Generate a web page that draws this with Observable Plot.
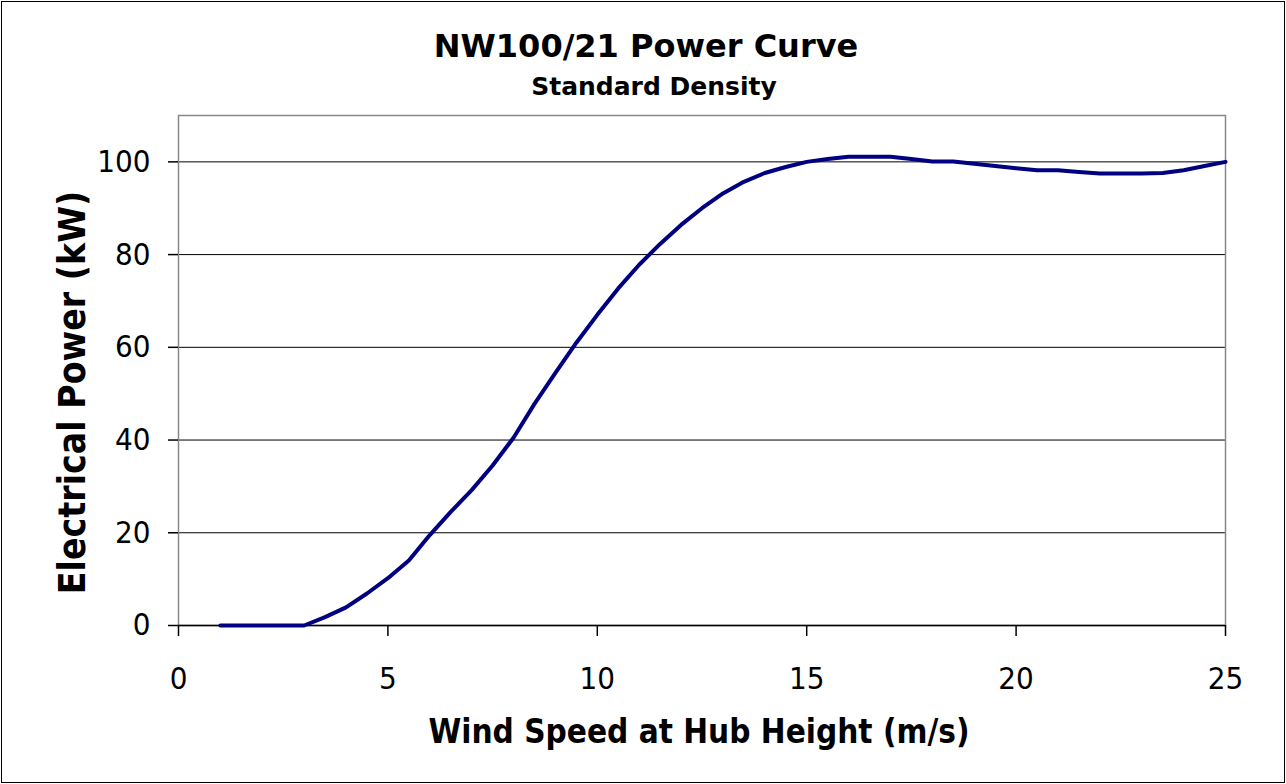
<!DOCTYPE html>
<html>
<head>
<meta charset="utf-8">
<script src="https://cdn.jsdelivr.net/npm/d3@7"></script>
<script src="https://cdn.jsdelivr.net/npm/@observablehq/plot@0.6"></script>
<style>
  html, body { margin: 0; padding: 0; background: #fff; }
  #chart svg { display: block; outline: 1.5px solid #000; outline-offset: -2px; }
</style>
</head>
<body>
<div id="chart"></div>
<script>
// Wind speed at hub height (m/s)
const windSpeed = [1, 1.5, 2, 2.5, 3, 3.5, 4, 4.5, 5, 5.5, 6, 6.5, 7, 7.5, 8, 8.5, 9, 9.5, 10,
  10.5, 11, 11.5, 12, 12.5, 13, 13.5, 14, 14.5, 15, 15.5, 16, 16.5, 17, 17.5, 18, 18.5, 19, 19.5, 20,
  20.5, 21, 21.5, 22, 22.5, 23, 23.5, 24, 24.5, 25];
// Electrical power (kW)
const power = [0, 0, 0, 0, 0, 1.8, 3.9, 6.9, 10.2, 14, 19.5, 24.5, 29.2, 34.5, 40.5, 47.8, 54.5, 61, 67,
  72.7, 77.8, 82.3, 86.4, 90, 93.2, 95.7, 97.6, 98.9, 100, 100.6, 101.1, 101.1, 101.1, 100.6, 100.1, 100.1, 99.6, 99.1, 98.6,
  98.2, 98.2, 97.8, 97.5, 97.5, 97.5, 97.6, 98.2, 99.1, 100];
const xTicks = [0, 5, 10, 15, 20, 25];
const yTicks = [0, 20, 40, 60, 80, 100];
const gridTicks = [20, 40, 60, 80, 100];
const titleText = "NW100/21 Power Curve";
const subtitleText = "Standard Density";
const xLabel = "Wind Speed at Hub Height (m/s)";
const yLabel = "Electrical Power (kW)";

const data = windSpeed.map((v, i) => ({speed: v, power: power[i]}));

const chart = Plot.plot({
  width: 1286,
  height: 784,
  marginLeft: 178,
  marginRight: 61,
  marginTop: 115,
  marginBottom: 159,
  style: {fontFamily: "'DejaVu Sans Condensed', 'DejaVu Sans', sans-serif", fontSize: "31px", color: "#000", background: "#fff"},
  x: {domain: [0, 25]},
  y: {domain: [0, 110]},
  marks: [
    Plot.gridY(gridTicks, {stroke: "#000", strokeOpacity: 1, strokeWidth: 1}),
    Plot.frame({stroke: "#888", strokeWidth: 1.5}),
    Plot.ruleY([0], {stroke: "#000", strokeWidth: 1.5}),
    Plot.axisY(yTicks, {tickSize: 10, tickPadding: 18, stroke: "#000", strokeWidth: 1.5, fontSize: 31, label: null}),
    Plot.axisX(xTicks, {tickSize: 11, tickPadding: 30, stroke: "#000", strokeWidth: 1.5, fontSize: 31, label: null}),
    Plot.line(data, {x: "speed", y: "power", stroke: "#000080", strokeWidth: 4, curve: "linear"}),
    Plot.text([titleText], {frameAnchor: "top", lineAnchor: "middle", textAnchor: "middle", dx: -56, dy: -69, fontFamily: "'DejaVu Sans', sans-serif", fontWeight: "bold", fontSize: 32}),
    Plot.text([subtitleText], {frameAnchor: "top", lineAnchor: "middle", textAnchor: "middle", dx: -48, dy: -29, fontFamily: "'DejaVu Sans', sans-serif", fontWeight: "bold", fontSize: 25}),
    Plot.text([xLabel], {frameAnchor: "bottom", lineAnchor: "middle", textAnchor: "middle", dx: -3, dy: 107, fontWeight: "bold", fontSize: 33}),
    Plot.text([yLabel], {frameAnchor: "left", lineAnchor: "middle", textAnchor: "middle", rotate: -90, dx: -105, dy: 22, fontWeight: "bold", fontSize: 37})
  ]
});
document.getElementById("chart").appendChild(chart);
</script>
</body>
</html>
